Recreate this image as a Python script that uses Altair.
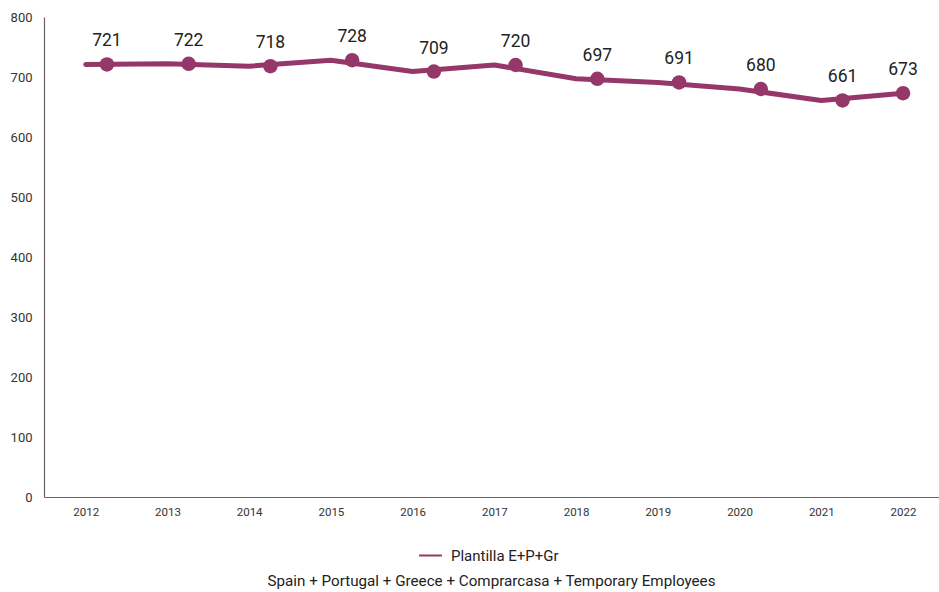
import altair as alt
import pandas as pd

years = [2012, 2013, 2014, 2015, 2016, 2017, 2018, 2019, 2020, 2021, 2022]
staff = [721, 722, 718, 728, 709, 720, 697, 691, 680, 661, 673]
series_name = "Plantilla E+P+Gr"
caption = "Spain + Portugal + Greece + Comprarcasa + Temporary Employees"

df = pd.DataFrame({"year": years, "staff": staff, "series": series_name})

COLOR = "#963769"
FONT = "Roboto"

xscale = alt.Scale(domain=[2011.49, 2022.44], nice=False, zero=False)
yscale = alt.Scale(domain=[0, 800], nice=False)

base = alt.Chart(df)

line = base.mark_line(strokeWidth=5, strokeCap="round", strokeJoin="round").encode(
    x=alt.X("year:Q", scale=xscale,
            axis=alt.Axis(values=years, format="d", title=None, ticks=False, grid=False,
                          labelFontSize=11.5, labelPadding=9, labelColor="#333",
                          domainColor="#666", domainWidth=1.2, labelFlush=False)),
    y=alt.Y("staff:Q", scale=yscale,
            axis=alt.Axis(values=[0, 100, 200, 300, 400, 500, 600, 700, 800], title=None,
                          ticks=False, grid=False, labelFontSize=13, labelPadding=12,
                          labelColor="#333", domainColor="#666", domainWidth=1.2)),
    color=alt.Color("series:N", scale=alt.Scale(range=[COLOR]),
                    legend=alt.Legend(title=None, orient="none", legendX=374, legendY=526,
                                      symbolType="stroke", symbolStrokeWidth=2,
                                      symbolSize=520, labelFontSize=15, labelOffset=8,
                                      labelColor="#222", labelFont=FONT)),
)

shifted = base.transform_calculate(
    xs="datum.year == 2022 ? datum.year : datum.year + 0.26"
)

points = shifted.mark_circle(size=210, opacity=1, color=COLOR).encode(
    x=alt.X("xs:Q", scale=xscale),
    y=alt.Y("staff:Q", scale=yscale),
)

labels = shifted.mark_text(dy=-23, fontSize=17.5, color="#222", font=FONT).encode(
    x=alt.X("xs:Q", scale=xscale),
    y=alt.Y("staff:Q", scale=yscale),
    text=alt.Text("staff:Q"),
)

chart = (line + points + labels).properties(
    width=895,
    height=480,
    padding={"left": 44, "top": 17, "right": 0, "bottom": 95},
    autosize=alt.AutoSizeParams(type="none"),
    title=alt.TitleParams(caption, orient="bottom", fontSize=15.2, fontWeight="normal",
                          color="#222", font=FONT, offset=10, anchor="middle"),
).configure_view(stroke=None).configure_axis(labelFont=FONT)

chart.save("out.html", embed_options={"renderer": "svg", "actions": False})
